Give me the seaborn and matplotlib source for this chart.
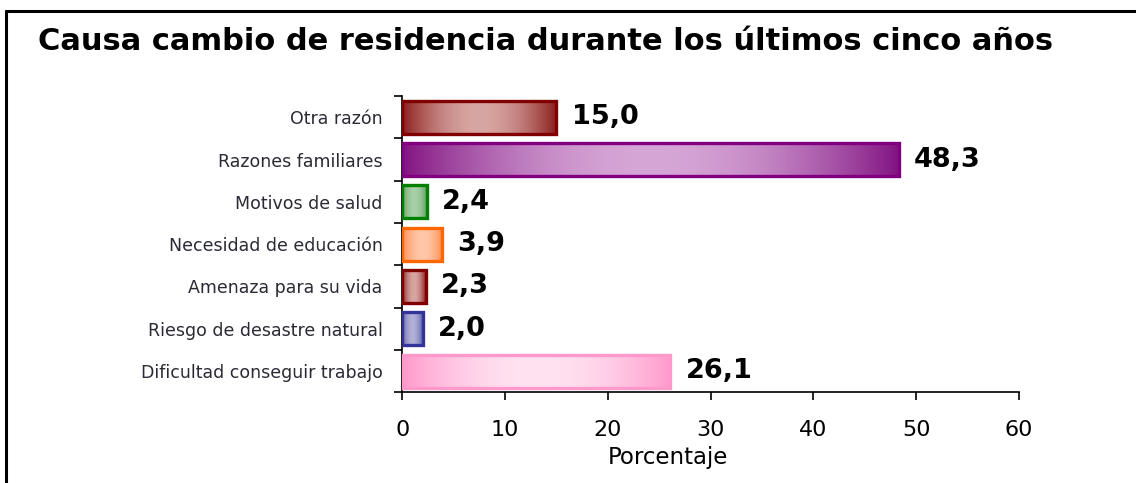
import numpy as np
import pandas as pd
import seaborn as sns
import matplotlib.pyplot as plt
from matplotlib.colors import to_rgb
from matplotlib.lines import Line2D

# data
categories = ['Otra razón', 'Razones familiares', 'Motivos de salud', 'Necesidad de educación',
              'Amenaza para su vida', 'Riesgo de desastre natural', 'Dificultad conseguir trabajo']
values = [15.0, 48.3, 2.4, 3.9, 2.3, 2.0, 26.1]

# edge colour, dark gradient end, light gradient middle
edge_colors = ['#800000', '#800080', '#008000', '#FF6600', '#800000', '#333399', '#FF99CC']
dark_colors = ['#8A1C1C', '#821382', '#5E9E5E', '#FF8A4D', '#8A1C1C', '#5E5EA8', '#FF99CC']
light_colors = ['#D8A6A2', '#D6A6D6', '#A8D0A8', '#FFC7A8', '#D8A6A2', '#B0B0D8', '#FFE3F1']

df = pd.DataFrame({'causa': categories, 'pct': values})

sns.set_style('white')
plt.rcParams['font.family'] = ['DejaVu Sans']

fig = plt.figure(figsize=(11.36, 4.83), dpi=100)
ax = fig.add_axes([0.354, 0.188, 0.543, 0.613])

sns.barplot(data=df, x='pct', y='causa', hue='causa', palette=edge_colors,
            orient='h', width=0.78, legend=False, ax=ax)

# gradient fill clipped to each bar
t = np.linspace(0, 1, 200)
w = np.sin(np.pi * t) ** 0.9
for i, patch in enumerate(ax.patches):
    dk = np.array(to_rgb(dark_colors[i]))
    lt = np.array(to_rgb(light_colors[i]))
    grad = dk[None, :] * (1 - w[:, None]) + lt[None, :] * w[:, None]
    x0, y0 = patch.get_x(), patch.get_y()
    bw, bh = patch.get_width(), patch.get_height()
    im = ax.imshow(grad[None, :, :], extent=[x0, x0 + bw, y0 + bh, y0],
                   aspect='auto', zorder=2.5)
    im.set_clip_path(patch)
    patch.set_facecolor('none')
    patch.set_edgecolor(edge_colors[i])
    patch.set_linewidth(2.4)
    patch.set_zorder(3)

for i, cont in enumerate(ax.containers):
    ax.bar_label(cont, labels=[f'{values[i]:.1f}'.replace('.', ',')], padding=11,
                 fontsize=19.5, fontweight='bold', color='black')

ax.set_xlim(0, 60)
ax.set_ylim(6.5, -0.5)
ax.set_xticks(range(0, 61, 10))
ax.set_yticks(range(len(categories)))
ax.set_yticklabels(categories)
ax.set_yticks(np.arange(-0.5, 7, 1), minor=True)

for s in ['top', 'right']:
    ax.spines[s].set_visible(False)
for s in ['left', 'bottom']:
    ax.spines[s].set_color('black')
    ax.spines[s].set_linewidth(1.2)

ax.tick_params(axis='y', which='major', length=0, pad=14, labelsize=12.5, labelcolor='#2a2a35')
ax.tick_params(axis='y', which='minor', length=6, width=1.2, color='black', direction='out', left=True)
ax.tick_params(axis='x', length=6, width=1.2, color='black', direction='out', bottom=True,
               pad=14, labelsize=16, labelcolor='black')
ax.set_xlabel('Porcentaje', fontsize=16.5, color='black')
ax.xaxis.set_label_coords(0.431, -0.183)
ax.set_ylabel('')

fig.text(38 / 1136, 1 - 42 / 483, 'Causa cambio de residencia durante los últimos cinco años',
         ha='left', va='center', fontsize=22, fontweight='bold', color='black')

# outer frame (top and left)
fig.add_artist(Line2D([6 / 1136, 6 / 1136], [0, 1 - 11 / 483], transform=fig.transFigure,
                      color='black', linewidth=2.2))
fig.add_artist(Line2D([6 / 1136, 1], [1 - 11 / 483, 1 - 11 / 483], transform=fig.transFigure,
                      color='black', linewidth=2.2))

fig.savefig('out.png', dpi=100)
